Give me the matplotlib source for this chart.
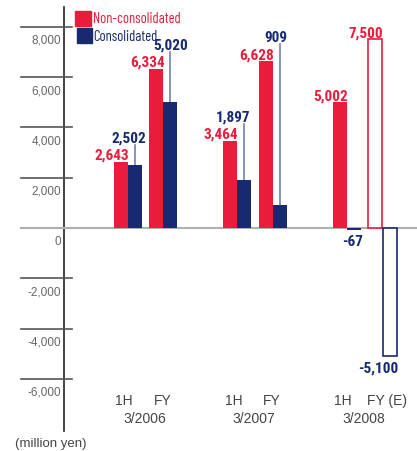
import matplotlib
matplotlib.use("Agg")
import matplotlib.pyplot as plt
from matplotlib.patches import Rectangle

# ---- data ----
years = ["3/2006", "3/2007", "3/2008"]
periods = ["1H", "FY"]
period_labels = [["1H", "FY"], ["1H", "FY"], ["1H", "FY (E)"]]
non_consolidated = [2643, 6334, 3464, 6628, 5002, 7500]
consolidated = [2502, 5020, 1897, 909, -67, -5100]
estimate = [False, False, False, False, False, True]
yticks = [8000, 6000, 4000, 2000, 0, -2000, -4000, -6000]

RED = "#EB1B3C"
NAVY = "#17296F"
CALLOUT = "#7380AD"
GRAY = "#555555"
COND = ["Roboto Condensed", "DejaVu Sans"]
NARROW = ["Barlow Condensed", "Roboto Condensed", "DejaVu Sans"]
PLAIN = ["Liberation Sans", "DejaVu Sans"]

W, H = 417, 452
fig = plt.figure(figsize=(W / 100, H / 100), dpi=100)
ax = fig.add_axes([0, 0, 1, 1])
ax.set_xlim(0, W)
y_top, y_bot = 9105, -8867
ax.set_ylim(y_bot, y_top)
ax.axis("off")
upp = (y_top - y_bot) / H  # data units per pixel

bar_w = 14
group0 = 128
group_step = 109.5
fy_step = 35.5
centers = []
for gi in range(len(years)):
    for pi in range(len(periods)):
        centers.append(group0 + gi * group_step + pi * fy_step)

# axis decorations
ax.plot([64, 64], [(229 - 8) * upp, -(432 - 229) * upp], color="#222222", lw=1.2, zorder=1)
ax.plot([21, W], [0, 0], color="#b0b0b0", lw=1.5, zorder=1)
for t in yticks:
    if t != 0:
        ax.plot([21, 72], [t, t], color=GRAY, lw=1.2, zorder=1)
    ax.annotate(f"{t:,}", (61, t), xytext=(0, -13), textcoords="offset pixels",
                ha="right", va="center", fontsize=8.5, color="#666666", family=PLAIN)

navy_dx = [4, 11, -1, 0, 2, 2]
for i, c in enumerate(centers):
    rx = c - bar_w
    nx = c
    nv = non_consolidated[i]
    cv = consolidated[i]
    if estimate[i]:
        ax.bar(rx, nv, width=bar_w, align="edge", facecolor="white", edgecolor=RED, lw=1.2, zorder=2)
        ax.bar(nx + 1, cv, width=bar_w, align="edge", facecolor="white", edgecolor=NAVY, lw=1.2, zorder=2)
    else:
        ax.bar(rx, nv, width=bar_w, align="edge", color=RED, zorder=2)
        ax.bar(nx, cv, width=bar_w, align="edge", color=NAVY, zorder=2)
    # red label
    ax.annotate(f"{nv:,}", (c + 1, nv), xytext=(0, 3), textcoords="offset pixels",
                ha="right", va="baseline", fontsize=11, fontweight="bold", color=RED,
                family=COND)
    # navy label
    if cv > 0:
        lab_y = nv + 20 * upp
        ax.annotate(f"{cv:,}", (nx + bar_w + navy_dx[i], lab_y), ha="right", va="baseline",
                    fontsize=11, fontweight="bold", color=NAVY, family=COND)
        ax.plot([nx + bar_w / 2, nx + bar_w / 2], [cv, lab_y - 3 * upp], color=CALLOUT, lw=1.2, zorder=1)
    else:
        ax.annotate(f"{cv:,}", (nx + bar_w + navy_dx[i], cv), xytext=(0, -4), textcoords="offset pixels",
                    ha="right", va="top", fontsize=11, fontweight="bold", color=NAVY, family=COND)

# x labels
for gi, yr in enumerate(years):
    c1 = centers[2 * gi]
    c2 = centers[2 * gi + 1]
    ax.text(c1 - 4, -(401 - 229) * upp, period_labels[gi][0], ha="center", va="center",
            fontsize=10, color="#444444", family=PLAIN)
    lab = period_labels[gi][1]
    if lab == "FY":
        ax.text(c2 - 1, -(401 - 229) * upp, lab, ha="center", va="center",
                fontsize=10, color="#444444", family=PLAIN)
    else:
        ax.text(c2 - 15, -(401 - 229) * upp, lab, ha="left", va="center",
                fontsize=10, color="#444444", family=PLAIN)
    ax.text((c1 + c2) / 2 - 1, -(419 - 229) * upp, yr, ha="center", va="center",
            fontsize=10, color="#444444", family=PLAIN)

ax.text(15, -(444 - 229) * upp, "(million yen)", ha="left", va="center",
        fontsize=9.5, color="#444444", family=PLAIN)

# legend
ax.add_patch(Rectangle((75, (229 - 27) * upp), 16, 15 * upp, color=RED, zorder=3))
ax.add_patch(Rectangle((77, (229 - 44) * upp), 15, 15 * upp, color=NAVY, zorder=3))
ax.text(93, (229 - 19) * upp, "Non-consolidated", ha="left", va="center", fontsize=10.5,
        color=RED, family=NARROW)
ax.text(93, (229 - 37) * upp, "Consolidated", ha="left", va="center", fontsize=10.5,
        color=NAVY, family=NARROW)

fig.savefig("out.png", dpi=100)
